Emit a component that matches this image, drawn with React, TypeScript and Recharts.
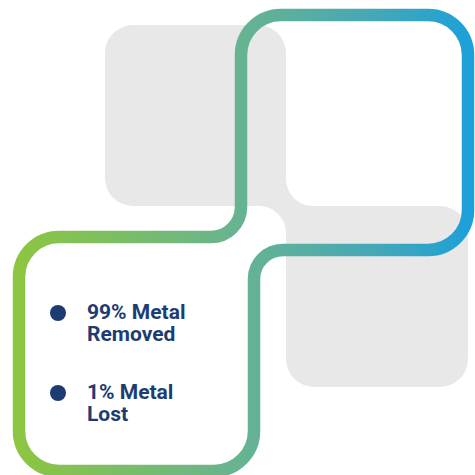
import React from 'react';
import { PieChart, Pie, Cell, Legend, Customized } from 'recharts';

// shares shown in the bullet list
const categories = ['99% Metal Removed', '1% Metal Lost'];
const shares = [99, 1];
const bulletColors = ['#1d3d72', '#1d3d72'];

const data = categories.map((name, i) => ({ name, value: shares[i] }));

if (typeof document !== 'undefined') {
  document.body.style.margin = '0';
}

function arc(r: number, x: number, y: number, sweep: 0 | 1) {
  return `A ${r} ${r} 0 0 ${sweep} ${x} ${y}`;
}

// grey tiles + gradient outline behind the list
function Backdrop() {
  const r = 28;
  const grey = [
    `M ${105 + r} 25`,
    `L ${286 - r} 25`,
    arc(r, 286, 25 + r, 1),
    `L 286 180`,
    arc(27, 313, 206, 0),
    `L ${468 - r} 206`,
    arc(r, 468, 206 + r, 1),
    `L 468 ${387 - r}`,
    arc(r, 468 - r, 387, 1),
    `L ${286 + r} 387`,
    arc(r, 286, 387 - r, 1),
    `L 286 233`,
    arc(27, 259, 206, 0),
    `L ${105 + r} 206`,
    arc(r, 105, 206 - r, 1),
    `L 105 ${25 + r}`,
    arc(r, 105 + r, 25, 1),
    'Z',
  ].join(' ');

  const R = 40;
  const outline = [
    `M ${19 + R} 237`,
    `L 211 237`,
    arc(30, 241, 207, 0),
    `L 241 ${15 + R}`,
    arc(R, 241 + R, 15, 1),
    `L ${468 - R} 15`,
    arc(R, 468, 15 + R, 1),
    `L 468 ${250 - R}`,
    arc(R, 468 - R, 250, 1),
    `L 283 250`,
    arc(29, 254, 279, 0),
    `L 254 ${471 - R}`,
    arc(R, 254 - R, 471, 1),
    `L ${19 + R} 471`,
    arc(R, 19, 471 - R, 1),
    `L 19 ${237 + R}`,
    arc(R, 19 + R, 237, 1),
    'Z',
  ].join(' ');

  return (
    <g>
      <defs>
        <linearGradient id="outlineGrad" gradientUnits="userSpaceOnUse" x1="13" y1="0" x2="475" y2="0">
          <stop offset="0" stopColor="#8dc63f" />
          <stop offset="0.5" stopColor="#66b393" />
          <stop offset="0.78" stopColor="#45a8b6" />
          <stop offset="1" stopColor="#1aa0da" />
        </linearGradient>
      </defs>
      <path d={grey} fill="#e8e8e8" />
      <path d={outline} fill="none" stroke="url(#outlineGrad)" strokeWidth={12.5} />
    </g>
  );
}

function BulletList() {
  return (
    <div style={{ fontFamily: 'Roboto, sans-serif', fontWeight: 700, fontSize: 21, lineHeight: '22px', color: '#1d3d72' }}>
      {categories.map((label, i) => (
        <div key={label} style={{ display: 'flex', alignItems: 'flex-start', marginBottom: 36 }}>
          <div style={{ width: 16, height: 16, borderRadius: 8, background: bulletColors[i], marginTop: 4, marginRight: 21, flexShrink: 0 }} />
          <div style={{ width: 120 }}>{label}</div>
        </div>
      ))}
    </div>
  );
}

export default function App() {
  return (
    <div style={{ width: 475, height: 475, background: '#fff', overflow: 'hidden' }}>
      <PieChart width={475} height={475} margin={{ top: 0, right: 0, bottom: 0, left: 0 }}>
        <Customized component={Backdrop} />
        <Pie
          data={data}
          dataKey="value"
          nameKey="name"
          cx={140}
          cy={360}
          outerRadius={0}
          stroke="none"
          legendType="circle"
          isAnimationActive={false}
        >
          {data.map((d, i) => (
            <Cell key={d.name} fill={bulletColors[i]} fillOpacity={0} />
          ))}
        </Pie>
        <Legend
          layout="vertical"
          content={<BulletList />}
          wrapperStyle={{ position: 'absolute', left: 50, top: 301, width: 180, bottom: 'auto', right: 'auto' }}
        />
      </PieChart>
    </div>
  );
}
